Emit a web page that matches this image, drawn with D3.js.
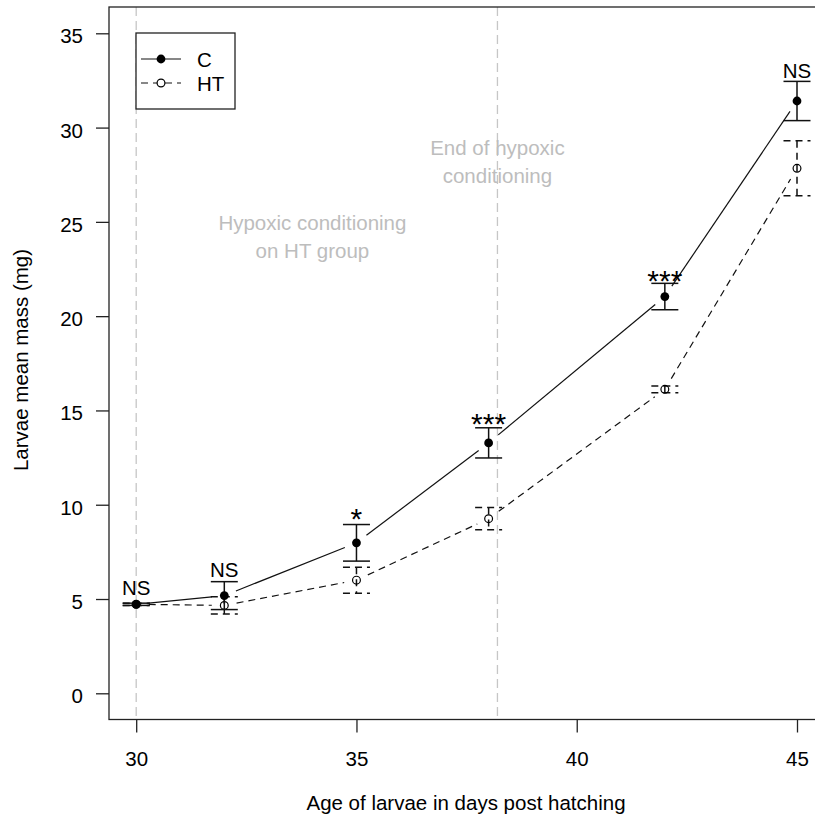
<!DOCTYPE html>
<html>
<head>
<meta charset="utf-8">
<script src="https://cdn.jsdelivr.net/npm/d3@7"></script>
<style>
  html, body { margin: 0; padding: 0; background: #fff; }
  svg { display: block; }
  text { font-family: "Liberation Sans", Arial, sans-serif; }
</style>
</head>
<body>
<svg id="chart" width="815" height="823"></svg>
<script>
// ---- data ----
const days = [30, 32, 35, 38, 42, 45];
const cMean = [4.72, 5.18, 7.98, 13.28, 21.04, 31.41];
const cErr = [0.06, 0.74, 0.97, 0.80, 0.70, 1.04];
const htMean = [4.72, 4.66, 6.00, 9.26, 16.12, 27.84];
const htErr = [0.06, 0.46, 0.69, 0.59, 0.18, 1.46];
const sigLabels = ["NS", "NS", "*", "***", "***", "NS"];
const sigY = [5.21, 6.18, 8.69, 13.76, 21.31, 32.61];
const xTicks = [30, 35, 40, 45];
const yTicks = [0, 5, 10, 15, 20, 25, 30, 35];
const markerDays = [30, 38.2];
const noteLines1 = ["Hypoxic conditioning", "on HT group"];
const noteY1 = [24.57, 23.09];
const noteX1 = 34;
const noteLines2 = ["End of hypoxic", "conditioning"];
const noteY2 = [28.55, 27.07];
const noteX2 = 38.2;
const seriesNames = ["C", "HT"];
const xTitle = "Age of larvae in days post hatching";
const yTitle = "Larvae mean mass (mg)";

// ---- layout ----
const svg = d3.select("#chart");
const FS = 20.5;
const plotL = 109, plotT = 7, plotR = 823, plotB = 719.5;
const x = d3.scaleLinear().domain([30, 45]).range([136.2, 797]);
const y = d3.scaleLinear().domain([0, 35]).range([693.3, 33.3]);
const axisCol = "#222";
const greyLine = "#c6c6c6";
const greyText = "#bdbdbd";

// vertical dashed marker lines
svg.selectAll("line.marker").data(markerDays).enter().append("line")
  .attr("x1", d => x(d)).attr("x2", d => x(d))
  .attr("y1", plotT).attr("y2", plotB)
  .attr("stroke", greyLine).attr("stroke-width", 1.3)
  .attr("stroke-dasharray", "9,5");

// annotations
function note(lines, ys, xv) {
  svg.selectAll(null).data(lines).enter().append("text")
    .attr("x", x(xv)).attr("y", (d, i) => y(ys[i]))
    .attr("text-anchor", "middle").attr("font-size", FS)
    .attr("fill", greyText).text(d => d);
}
note(noteLines1, noteY1, noteX1);
note(noteLines2, noteY2, noteX2);

// axes
const yAxis = d3.axisLeft(y).tickValues(yTicks).tickSize(13).tickPadding(13);
const gy = svg.append("g").attr("transform", `translate(${plotL},0)`).call(yAxis);
gy.select(".domain").remove();
gy.selectAll("line").attr("stroke", axisCol).attr("stroke-width", 1.3);
gy.selectAll("text").attr("font-size", FS).attr("font-family", "Liberation Sans, Arial, sans-serif")
  .attr("fill", "#000").attr("dy", "0.46em");

const xAxis = d3.axisBottom(x).tickValues(xTicks).tickSize(13).tickPadding(19);
const gx = svg.append("g").attr("transform", `translate(0,${plotB})`).call(xAxis);
gx.select(".domain").remove();
gx.selectAll("line").attr("stroke", axisCol).attr("stroke-width", 1.3);
gx.selectAll("text").attr("font-size", FS).attr("font-family", "Liberation Sans, Arial, sans-serif")
  .attr("fill", "#000");

// frame
svg.append("rect").attr("x", plotL).attr("y", plotT)
  .attr("width", plotR - plotL).attr("height", plotB - plotT)
  .attr("fill", "none").attr("stroke", axisCol).attr("stroke-width", 1.3);

// titles
svg.append("text").attr("x", (plotL + plotR) / 2).attr("y", 810)
  .attr("text-anchor", "middle").attr("font-size", FS).attr("fill", "#000").text(xTitle);
svg.append("text").attr("transform", `translate(28,${360}) rotate(-90)`)
  .attr("text-anchor", "middle").attr("font-size", FS).attr("fill", "#000").text(yTitle);

// series drawing (type "b": lines with gaps around points)
const GAP = 12.5;
function drawSeries(means, errs, dash, filled) {
  const pts = days.map((d, i) => [x(d), y(means[i])]);
  const g = svg.append("g");
  for (let i = 0; i < pts.length - 1; i++) {
    const [x0, y0] = pts[i], [x1, y1] = pts[i + 1];
    const dx = x1 - x0, dy = y1 - y0, len = Math.hypot(dx, dy);
    if (len <= 2 * GAP) continue;
    const ux = dx / len, uy = dy / len;
    g.append("line")
      .attr("x1", x0 + ux * GAP).attr("y1", y0 + uy * GAP)
      .attr("x2", x1 - ux * GAP).attr("y2", y1 - uy * GAP)
      .attr("stroke", "#111").attr("stroke-width", 1.2)
      .attr("stroke-dasharray", dash);
  }
  // error bars
  const capW = 13.5;
  days.forEach((d, i) => {
    const cx = x(d), top = y(means[i] + errs[i]), bot = y(means[i] - errs[i]);
    g.append("line").attr("x1", cx).attr("x2", cx).attr("y1", top).attr("y2", bot)
      .attr("stroke", "#111").attr("stroke-width", 1.5).attr("stroke-dasharray", dash);
    [top, bot].forEach(yy => {
      g.append("line").attr("x1", cx - capW).attr("x2", cx + capW).attr("y1", yy).attr("y2", yy)
        .attr("stroke", "#111").attr("stroke-width", 1.5).attr("stroke-dasharray", dash);
    });
  });
  // points
  g.selectAll("circle").data(pts).enter().append("circle")
    .attr("cx", p => p[0]).attr("cy", p => p[1])
    .attr("r", filled ? 4.4 : 3.9)
    .attr("fill", filled ? "#000" : "none")
    .attr("stroke", "#000").attr("stroke-width", filled ? 0 : 1.2);
}
drawSeries(htMean, htErr, "7,5", false);
drawSeries(cMean, cErr, null, true);

// significance labels
svg.selectAll("text.sig").data(sigLabels).enter().append("text")
  .attr("class", "sig")
  .attr("x", (d, i) => x(days[i])).attr("y", (d, i) => y(sigY[i]))
  .attr("text-anchor", "middle")
  .attr("font-size", d => d === "NS" ? FS : 30)
  .attr("fill", "#000").text(d => d);

// legend
const lg = svg.append("g");
lg.append("rect").attr("x", 136).attr("y", 33).attr("width", 99).attr("height", 76)
  .attr("fill", "#fff").attr("stroke", axisCol).attr("stroke-width", 1.3);
const legY = [59, 83];
seriesNames.forEach((name, i) => {
  lg.append("line").attr("x1", 141).attr("x2", 181).attr("y1", legY[i]).attr("y2", legY[i])
    .attr("stroke", "#111").attr("stroke-width", 1.2)
    .attr("stroke-dasharray", i === 0 ? null : "7,5");
  lg.append("circle").attr("cx", 161).attr("cy", legY[i]).attr("r", i === 0 ? 4.4 : 3.9)
    .attr("fill", i === 0 ? "#000" : "#fff").attr("stroke", "#000")
    .attr("stroke-width", i === 0 ? 0 : 1.2);
  lg.append("text").attr("x", 197).attr("y", legY[i] + 8)
    .attr("font-size", FS).attr("fill", "#000").text(name);
});
</script>
</body>
</html>
